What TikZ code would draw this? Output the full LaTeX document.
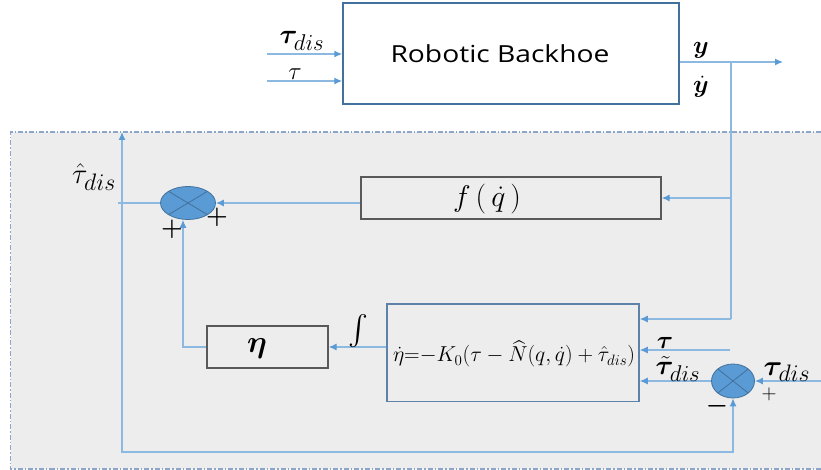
\RequirePackage{fix-cm}
\documentclass[tikz,border=0pt]{standalone}
\usepackage{amsmath,bm}
\usepackage{fontspec}
\setmainfont{Carlito}
\newfontfamily\namefont{Open Sans}
\usetikzlibrary{arrows.meta,shapes.geometric}
\definecolor{panel}{HTML}{EDEDED}
\definecolor{wire}{RGB}{140,185,225}
\definecolor{tipc}{HTML}{5B9BD5}
\definecolor{sumfill}{HTML}{5B9BD5}
\definecolor{sumline}{HTML}{41719C}
\definecolor{plantline}{HTML}{41719C}
\definecolor{odeline}{RGB}{95,130,170}
\definecolor{boxline}{HTML}{595959}
\definecolor{frame}{RGB}{140,165,200}
% large subscript "dis" as used in the signal labels
\newcommand{\dsub}{_{\mbox{\fontsize{20.74}{21}\selectfont$dis$}}}

\begin{document}
\begin{tikzpicture}[x=1pt,y=-1pt,
  wire/.style={draw=wire, line width=1.2pt},
  conn/.style={wire, -{Latex[length=8pt,width=7pt,color=tipc]}},
  dconn/.style={wire, {Latex[length=8pt,width=7pt,color=tipc]}-{Latex[length=8pt,width=7pt,color=tipc]}},
  blk/.style={draw=boxline, line width=1.3pt, rectangle, inner sep=0pt},
  summer/.style={ellipse, draw=sumline, fill=sumfill, line width=0.8pt, inner sep=0pt,
    path picture={\draw[sumline, line width=0.8pt]
      (path picture bounding box.north west) -- (path picture bounding box.south east)
      (path picture bounding box.north east) -- (path picture bounding box.south west);}},
  lbl/.style={inner sep=0pt, font=\fontsize{24.88}{26}\selectfont},
  sgn/.style={inner sep=0pt, font=\fontsize{24.88}{26}\selectfont}
]
\useasboundingbox (0,0) rectangle (821,470);

% observer panel
\fill[panel] (10.5,132) rectangle (821,469);
\draw[frame, line width=1.2pt, dash pattern=on 5pt off 2pt on 1.5pt off 2pt]
  (821,132) -- (10.5,132) -- (10.5,469) -- (821,469);

% plant
\node[draw=plantline, line width=1.5pt, minimum width=336pt, minimum height=101pt, inner sep=0pt] (rb) at (511,53.5) {};
\node[inner sep=0pt, anchor=base, font=\namefont\fontsize{23.5}{26}\selectfont] (rbname) at (500,63)
  {\scalebox{1.2}[1]{Robotic Backhoe}};

% observer blocks
\node[blk, minimum width=300pt, minimum height=42pt] (f) at (511,198) {};
\node[lbl] (flabel) at (487,199) {\scalebox{1.2}{$f\,(\,\dot q\,)$}};
\node[blk, minimum width=121pt, minimum height=42pt] (eta) at (267.5,347) {};
\node[lbl] (etalabel) at (257,349) {\scalebox{1.25}{$\bm{\eta}$}};
\node[draw=odeline, line width=1.5pt, minimum width=252pt, minimum height=97.5pt, inner sep=0pt] (ode) at (513,352.75) {};
\node[inner sep=0pt, font=\fontsize{17.28}{19}\selectfont] (odetext) at (514,354)
  {\resizebox{242pt}{!}{$\dot\eta{=}{-}K_0(\tau-\widehat{N}(q,\dot q)+\hat\tau_{dis})$}};

% summing junctions
\node[summer, minimum width=55pt, minimum height=33pt] (s1) at (188,203) {};
\node[summer, minimum width=43pt, minimum height=34pt] (s2) at (733,381) {};

% free ends
\coordinate (tdisin) at (267,54);
\coordinate (tauin) at (267,81);
\coordinate (out) at (783,62);
\coordinate (br) at (731,62);
\coordinate (k1) at (731,319);
\coordinate (lt) at (122,132);
\coordinate (lb) at (122,452);
\coordinate (tauode) at (730,350);
\coordinate (tdis2) at (821,381);

% connectors
\draw[conn] (tdisin) -- (tdisin -| rb.west);
\draw[conn] (tauin) -- (tauin -| rb.west);
\draw[conn] (rb.east |- out) -- (out);
\draw[wire] (br) -- (k1);
\draw[conn] (k1) -- (k1 -| ode.east);
\draw[conn] (br |- f.east) -- (f.east);
\draw[conn] (f.west |- s1.east) -- (s1.east);
\draw[wire] (s1.west) -- ([xshift=-4pt]lt |- s1.west);
\draw[dconn] (lt) -- (lb) -| (s2.south);
\draw[conn] (eta.west) -| ([xshift=-5pt]s1.south);
\draw[conn] (ode.west |- eta.east) -- (eta.east);
\draw[conn] (tauode) -- (tauode -| ode.east);
\draw[conn] (s2.west) -- (s2.west -| ode.east);
\draw[conn] (tdis2) -- (s2.east);

% signal labels
\node[lbl] (ltdis) at (302,41) {\scalebox{1.1}{$\bm{\tau}\dsub$}};
\node[lbl] (ltau) at (295,74) {$\tau$};
\node[lbl] (ly) at (701,50) {$\bm{y}$};
\node[lbl] (lyd) at (701,87) {$\dot{\bm{y}}$};
\node[lbl] (lthat) at (94,177) {\scalebox{1.15}{$\hat\tau\dsub$}};
\node[lbl] (lint) at (358,331) {\scalebox{1.2}{$\int$}};
\node[lbl] (ltau2) at (665,343) {$\bm{\tau}$};
\node[lbl] (lttil) at (678,369) {\scalebox{1.1}{$\tilde{\bm{\tau}}\dsub$}};
\node[lbl] (ltdis2) at (787,372) {\scalebox{1.15}{$\bm{\tau}\dsub$}};

% signs
\node[sgn] (p1) at (172,229) {$\bm{+}$};
\node[sgn] (p2) at (217,217) {$\bm{+}$};
\node[sgn, font=\fontsize{20.74}{22}\selectfont] (p3) at (769,394) {$+$};
\node[sgn] (m1) at (717,406) {$\bm{-}$};
\end{tikzpicture}
\end{document}
